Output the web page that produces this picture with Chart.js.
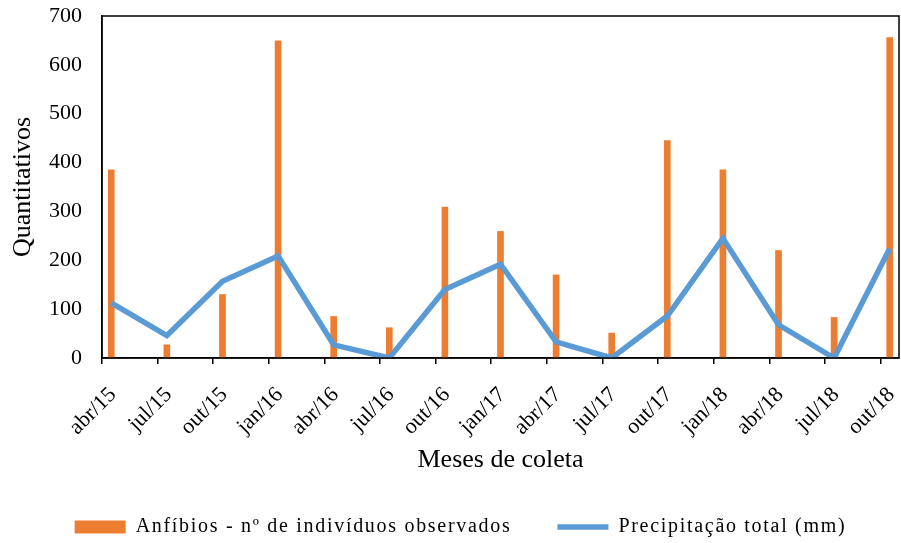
<!DOCTYPE html>
<html>
<head>
<meta charset="utf-8">
<script src="https://cdn.jsdelivr.net/npm/chart.js@4.4.1/dist/chart.umd.min.js"></script>
<style>
    html, body { margin: 0; padding: 0; background: #fff; }
    #wrap { width: 901px; height: 543px; }
</style>
</head>
<body>
<div id="wrap"><canvas id="chart" width="901" height="543"></canvas></div>
<script>
// Collection months (every 3 months)
const months = ['abr/15', 'jul/15', 'out/15', 'jan/16', 'abr/16', 'jul/16', 'out/16', 'jan/17',
    'abr/17', 'jul/17', 'out/17', 'jan/18', 'abr/18', 'jul/18', 'out/18'];

// Amphibians - number of individuals observed
const amphibians = [385, 27, 130, 649, 85, 62, 309, 259, 170, 51, 445, 385, 220, 83, 656];

// Total rainfall (mm)
const rainfall = [113, 46, 157, 209, 27, 0, 140, 192, 33, 0, 86, 245, 68, 0, 224];

const yTicks = [0, 100, 200, 300, 400, 500, 600, 700];

const ORANGE = '#ED7D31';
const BLUE = '#5B9BD5';
const FONT = "'Liberation Serif', 'Times New Roman', serif";

// points sit mid-month on a month-based axis, ticks at start of each quarter
const monthPos = months.map((_, i) => i * 3);
const barData = amphibians.map((v, i) => ({ x: monthPos[i] + 0.5, y: v }));
const lineData = rainfall.map((v, i) => ({ x: monthPos[i] + 0.5, y: v }));

// legend text in the original is spaced out, only apply it to the legend
const legendSpacing = {
    id: 'legendSpacing',
    beforeLayout(chart) {
        const lg = chart.legend;
        if (!lg || lg._spaced) return;
        const fit = lg.fit.bind(lg);
        const draw = lg.draw.bind(lg);
        lg.fit = function () {
            chart.ctx.letterSpacing = '1.7px';
            fit();
            chart.ctx.letterSpacing = '0px';
        };
        lg.draw = function () {
            chart.ctx.letterSpacing = '1.7px';
            draw();
            chart.ctx.letterSpacing = '0px';
        };
        lg._spaced = true;
    }
};

// box around the plot area
const frame = {
    id: 'frame',
    afterDatasetsDraw(chart) {
        const a = chart.chartArea;
        const ctx = chart.ctx;
        ctx.save();
        ctx.strokeStyle = '#000';
        ctx.lineWidth = 1.5;
        ctx.strokeRect(a.left, a.top, a.right - a.left, a.bottom - a.top);
        ctx.restore();
    }
};

const ctx = document.getElementById('chart').getContext('2d');
new Chart(ctx, {
    type: 'bar',
    data: {
        datasets: [{
            type: 'bar',
            label: 'Anfíbios - nº de indivíduos observados',
            data: barData,
            backgroundColor: ORANGE,
            barThickness: 6,
            order: 2
        }, {
            type: 'line',
            label: 'Precipitação total (mm)',
            data: lineData,
            borderColor: BLUE,
            backgroundColor: BLUE,
            borderWidth: 5.5,
            pointRadius: 0,
            tension: 0,
            order: 1
        }]
    },
    options: {
        responsive: false,
        animation: false,
        layout: { padding: { left: 22, right: 2, top: 0, bottom: -4 } },
        plugins: {
            tooltip: { enabled: false },
            legend: {
                position: 'bottom',
                labels: {
                    color: '#000',
                    font: { family: FONT, size: 20 },
                    usePointStyle: true,
                    pointStyleWidth: 51,
                    boxHeight: 13,
                    padding: 46,
                    generateLabels() {
                        return [
                            { text: 'Anfíbios - nº de indivíduos observados', fillStyle: ORANGE, strokeStyle: ORANGE, lineWidth: 0, pointStyle: 'rect', datasetIndex: 0, hidden: false },
                            { text: 'Precipitação total (mm)', fillStyle: BLUE, strokeStyle: BLUE, lineWidth: 5.5, pointStyle: 'line', datasetIndex: 1, hidden: false }
                        ];
                    }
                }
            }
        },
        scales: {
            x: {
                type: 'linear',
                min: 0,
                max: 43,
                offset: false,
                afterBuildTicks(scale) {
                    scale.ticks = monthPos.map(v => ({ value: v }));
                },
                afterFit(scale) {
                    scale.height = 113;
                    scale.paddingLeft = 0;
                    scale.paddingRight = 0;
                },
                grid: { display: true, offset: false, drawOnChartArea: false, color: '#000', lineWidth: 1.5, tickLength: 6 },
                border: { display: true, color: '#000', width: 1.5 },
                ticks: {
                    autoSkip: false,
                    maxRotation: 45,
                    minRotation: 45,
                    padding: 18,
                    labelOffset: 11,
                    color: '#000',
                    font: { family: FONT, size: 22 },
                    callback: (value, index) => months[index]
                },
                title: {
                    display: true,
                    text: 'Meses de coleta',
                    color: '#000',
                    font: { family: FONT, size: 26 },
                    padding: { top: 0, bottom: -5 }
                }
            },
            y: {
                min: 0,
                max: 700,
                afterBuildTicks(scale) {
                    scale.ticks = yTicks.map(v => ({ value: v }));
                },
                afterFit(scale) {
                    scale.width = 80;
                    scale.paddingTop = 16;
                },
                grid: { display: false, drawTicks: false },
                border: { display: true, color: '#000', width: 1.5 },
                ticks: {
                    padding: 20,
                    color: '#000',
                    font: { family: FONT, size: 22 }
                },
                title: {
                    display: true,
                    text: 'Quantitativos',
                    color: '#000',
                    font: { family: FONT, size: 26 },
                    padding: { top: -14, bottom: 0 }
                }
            }
        }
    },
    plugins: [legendSpacing, frame]
});
</script>
</body>
</html>
